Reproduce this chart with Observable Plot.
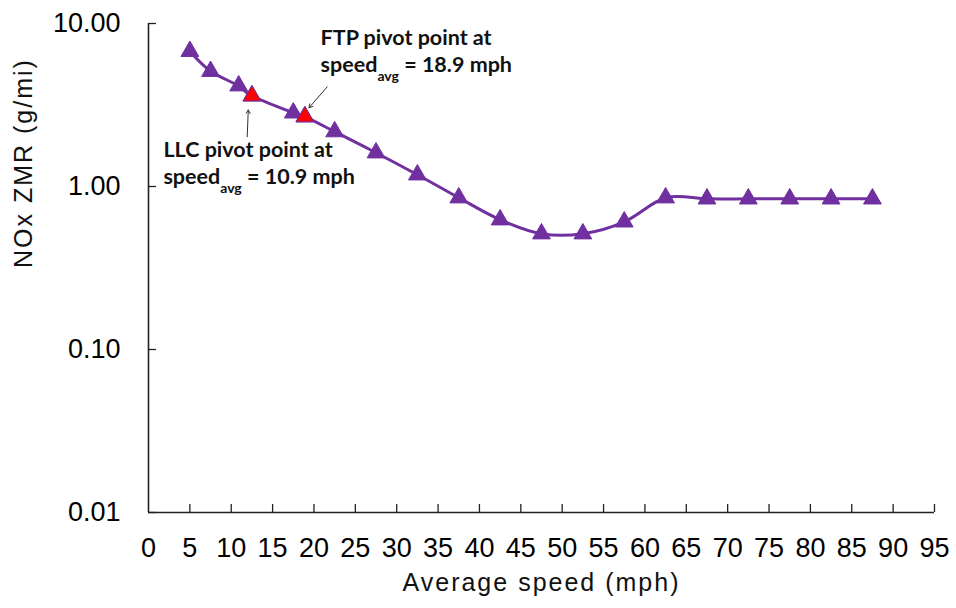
<!DOCTYPE html>
<html><head><meta charset="utf-8">
<script src="https://cdn.jsdelivr.net/npm/d3@7"></script>
<script src="https://cdn.jsdelivr.net/npm/@observablehq/plot@0.6"></script>
<style>body{margin:0;background:#fff}</style>
</head><body><div id="chart"></div>
<script>
// Data
const speeds = [5, 7.5, 10.9, 12.5, 17.5, 18.9, 22.5, 27.5, 32.5, 37.5, 42.5, 47.5, 52.5, 57.5, 62.5, 67.5, 72.5, 77.5, 82.5, 87.5];
const noxZmr = [6.75, 5.09, 4.15, 3.6, 2.83, 2.68, 2.17, 1.61, 1.18, 0.853, 0.625, 0.513, 0.513, 0.607, 0.853, 0.84, 0.84, 0.84, 0.84, 0.84];
const pivotSpeeds = [12.5, 18.9];
const pivotValues = [3.6, 2.68];
const xTicks = [5, 10, 15, 20, 25, 30, 35, 40, 45, 50, 55, 60, 65, 70, 75, 80, 85, 90, 95];
const xTickLabels = [0, 5, 10, 15, 20, 25, 30, 35, 40, 45, 50, 55, 60, 65, 70, 75, 80, 85, 90, 95];
const yTicks = [0.01, 0.1, 1, 10];
const annotationText = ["FTP pivot point at", "speed{avg} = 18.9 mph", "LLC pivot point at", "speed{avg} = 10.9 mph"];
const annotationX = [20.8, 20.8, 1.8, 1.8];
const annotationY = [8.16, 5.57, 1.677, 1.145];
const arrowFromX = [21.6, 11.93];
const arrowFromY = [4.09, 2.02];
const arrowToX = [19.4, 12.06];
const arrowToY = [3.04, 2.95];
const xTitle = "Average speed (mph)";
const yTitle = "NOx ZMR (g/mi)";

const series = speeds.map((s, i) => ({speed: s, nox: noxZmr[i]}));
const pivots = pivotSpeeds.map((s, i) => ({speed: s, nox: pivotValues[i]}));
const notes = annotationText.map((t, i) => ({text: t, x: annotationX[i], y: annotationY[i]}));
const arrows = arrowFromX.map((x, i) => ({x1: x, y1: arrowFromY[i], x2: arrowToX[i], y2: arrowToY[i]}));

const purple = "#7030A0";
const plot = Plot.plot({
  width: 956,
  height: 608,
  marginLeft: 148,
  marginRight: 22,
  marginTop: 23,
  marginBottom: 96,
  style: {fontFamily: "'Liberation Sans', Arial, sans-serif", fontSize: "27px", color: "#000", background: "#fff"},
  x: {domain: [0, 95]},
  y: {type: "log", domain: [0.01, 10]},
  marks: [
    Plot.axisX({ticks: xTicks, tickSize: -8, tickPadding: 0, tickFormat: () => "", label: null, stroke: "#222", strokeWidth: 1.3}),
    Plot.axisX({ticks: xTickLabels, tickSize: 0, tickPadding: 25, label: null, fontSize: 27}),
    Plot.axisY({ticks: yTicks, tickSize: -8, tickPadding: 36, tickFormat: d3.format(".2f"), label: null, stroke: "#222", strokeWidth: 1.3, fontSize: 27}),
    Plot.ruleX([0], {stroke: "#222", strokeWidth: 1.6}),
    Plot.ruleY([0.01], {stroke: "#222", strokeWidth: 1.6}),
    Plot.text([xTitle], {frameAnchor: "bottom", dy: 78, fontSize: 25, fill: "#111"}),
    Plot.text([yTitle], {frameAnchor: "left", rotate: -90, dx: -125, fontSize: 25, fill: "#111"}),
    Plot.line(series, {x: "speed", y: "nox", stroke: purple, strokeWidth: 3, curve: "cardinal"}),
    Plot.dot(series, {x: "speed", y: "nox", symbol: "triangle", r: 6.6, fill: purple, stroke: purple, strokeWidth: 1}),
    Plot.dot(pivots, {x: "speed", y: "nox", symbol: "triangle", r: 6.6, fill: "#FF0000", stroke: purple, strokeWidth: 1}),
    Plot.arrow(arrows, {x1: "x1", y1: "y1", x2: "x2", y2: "y2", stroke: "#333", strokeWidth: 1, headLength: 6}),
    Plot.text(notes, {x: "x", y: "y", text: "text", textAnchor: "start", fontSize: 21.5, fontWeight: "bold", fontFamily: "Lato", fill: "#111"})
  ]
});

// letter spacing for titles and subscript for "avg"
d3.select(plot).selectAll("text").each(function() {
  const t = this.textContent;
  if (t === xTitle || t === yTitle) d3.select(this).attr("letter-spacing", "2px");
  if (t.includes("{avg}")) {
    const [a, rest] = t.split("{avg}");
    const sel = d3.select(this);
    sel.text(null);
    sel.append("tspan").text(a);
    sel.append("tspan").attr("font-size", 14).attr("dy", 9).text("avg");
    sel.append("tspan").attr("dy", -9).text(rest);
  }
});
document.getElementById("chart").appendChild(plot);
</script>
</body></html>
